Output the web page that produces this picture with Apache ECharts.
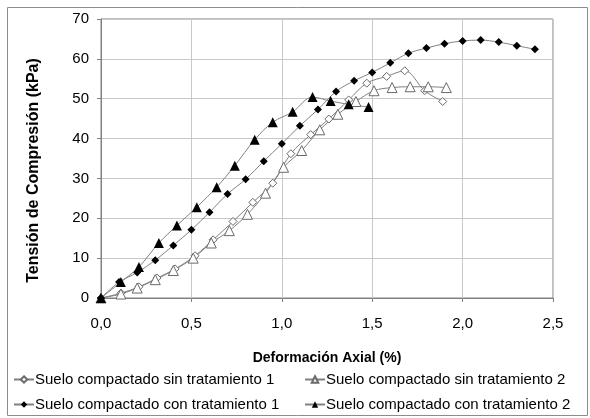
<!DOCTYPE html>
<html>
<head>
<meta charset="utf-8">
<script src="https://cdn.jsdelivr.net/npm/echarts@6/dist/echarts.min.js"></script>
<style>
html,body{margin:0;padding:0;background:#fff;}
#c{width:590px;height:418px;}
</style>
</head>
<body>
<div id="c"></div>
<script>
// Data
var names = [
  'Suelo compactado sin tratamiento 1',
  'Suelo compactado sin tratamiento 2',
  'Suelo compactado con tratamiento 1',
  'Suelo compactado con tratamiento 2'
];
var sin1X = [0,0.11,0.21,0.31,0.41,0.52,0.62,0.73,0.84,0.95,1.05,1.16,1.26,1.37,1.47,1.58,1.68,1.79,1.89];
var sin1Y = [0,1.2,2.8,5.0,7.3,10.6,14.6,19.2,24.0,28.8,36.2,41.0,44.9,49.7,53.9,55.6,57.0,52.0,49.3];
var sin2X = [0,0.11,0.20,0.30,0.40,0.51,0.61,0.71,0.81,0.91,1.01,1.11,1.21,1.31,1.41,1.51,1.61,1.71,1.81,1.91];
var sin2Y = [0,1.0,2.5,4.6,6.9,10.0,13.8,16.9,21.0,26.3,32.8,37.0,42.2,46.1,49.3,52.0,52.8,53.0,53.0,52.8];
var con1X = [0,0.1,0.2,0.3,0.4,0.5,0.6,0.7,0.8,0.9,1.0,1.1,1.2,1.3,1.4,1.5,1.6,1.7,1.8,1.9,2.0,2.1,2.2,2.3,2.4];
var con1Y = [0,4.0,6.4,9.5,13.2,17.1,21.5,26.1,29.8,34.3,38.7,43.2,47.3,51.8,54.5,56.6,59.0,61.4,62.7,63.8,64.5,64.7,64.2,63.3,62.4];
var con2X = [0,0.11,0.21,0.32,0.42,0.53,0.64,0.74,0.85,0.95,1.06,1.17,1.27,1.37,1.48];
var con2Y = [0,4.0,7.8,13.8,18.2,22.8,27.8,33.2,39.7,44.1,46.7,50.4,49.4,48.6,47.9];
var xTicks = {min:0, max:2.5, interval:0.5};
var yTicks = {min:0, max:70, interval:10};

function pairs(xs, ys){ return xs.map(function(x,i){ return [x, ys[i]]; }); }

var font = 'Arial, "Liberation Sans", sans-serif';
var lineCol = '#808080';

function mk(name, xs, ys, symbol, size, filled){
  return {
    name: name, type: 'line', smooth: 0.35, data: pairs(xs, ys),
    symbol: symbol, symbolSize: size, showSymbol: true,
    lineStyle: {color: lineCol, width: 1},
    itemStyle: filled ? {color: '#000', borderColor: '#000', borderWidth: 0}
                      : {color: '#fff', borderColor: '#6a6a6a', borderWidth: 1},
    emphasis: {disabled: true},
    animation: false
  };
}

function leg(name, left, top){
  return {
    left: left, top: top, orient: 'horizontal', itemWidth: 20, itemHeight: 8, padding: 0,
    data: [name], selectedMode: false,
    textStyle: {fontFamily: font, fontSize: 15, color: '#000', padding: [0,0,0,-4]}
  };
}

var chart = echarts.init(document.getElementById('c'), null, {renderer: 'canvas'});
chart.setOption({
  backgroundColor: '#fff',
  animation: false,
  graphic: [{
    type: 'rect', shape: {x: 7.5, y: 7.5, width: 580, height: 408},
    style: {fill: 'none', stroke: '#8c8c8c', lineWidth: 1}, z: -10
  }],
  grid: {left: 101, right: 37, top: 19, bottom: 120, show: true, borderColor: '#808080', borderWidth: 1, containLabel: false},
  legend: [
    leg(names[0], 13, 372),
    leg(names[1], 304, 372),
    leg(names[2], 13, 397),
    leg(names[3], 304, 397)
  ],
  xAxis: {
    type: 'value', min: xTicks.min, max: xTicks.max, interval: xTicks.interval,
    name: 'Deformación Axial (%)', nameLocation: 'middle', nameGap: 53,
    nameTextStyle: {fontFamily: font, fontSize: 14, fontWeight: 'bold', color: '#000'},
    axisLine: {show: true, lineStyle: {color: '#808080', width: 1}},
    axisTick: {show: true, inside: false, length: 4, lineStyle: {color: '#808080'}},
    axisLabel: {margin: 18, fontFamily: font, fontSize: 15, color: '#000',
      formatter: function(v){ return v.toFixed(1).replace('.', ','); }},
    splitLine: {show: true, lineStyle: {color: '#c8c8c8', width: 1}}
  },
  yAxis: {
    type: 'value', min: yTicks.min, max: yTicks.max, interval: yTicks.interval,
    name: 'Tensión de Compresión (kPa)', nameLocation: 'middle', nameGap: 59,
    nameTextStyle: {fontFamily: font, fontSize: 16, fontWeight: 'bold', color: '#000', padding: [0, 24, 0, 0]},
    axisLine: {show: true, lineStyle: {color: '#808080', width: 1}},
    axisTick: {show: true, inside: false, length: 4, lineStyle: {color: '#808080'}},
    axisLabel: {margin: 12, fontFamily: font, fontSize: 15, color: '#000'},
    splitLine: {show: true, lineStyle: {color: '#c8c8c8', width: 1}}
  },
  series: [
    mk(names[0], sin1X, sin1Y, 'diamond', 8, false),
    mk(names[1], sin2X, sin2Y, 'triangle', 10, false),
    mk(names[2], con1X, con1Y, 'diamond', 8, true),
    mk(names[3], con2X, con2Y, 'triangle', 10, true)
  ]
});
</script>
</body>
</html>
